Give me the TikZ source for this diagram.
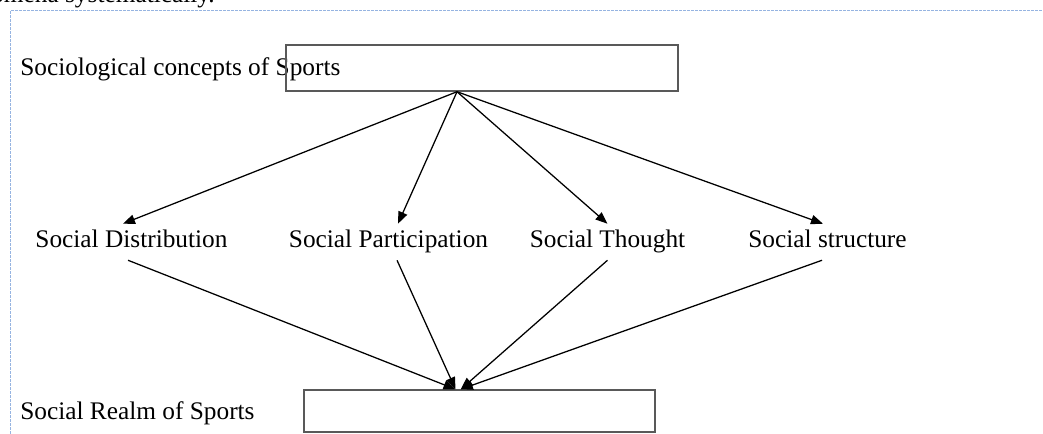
\documentclass[tikz,border=0pt]{standalone}
\usepackage{fontspec}
\setmainfont{Liberation Serif}
\usetikzlibrary{arrows.meta,positioning}
\definecolor{frameblue}{RGB}{150,180,225}

\begin{document}
\begin{tikzpicture}[x=0.75pt,y=-0.75pt,
    txt/.style={inner sep=0pt,font=\fontsize{19}{22}\selectfont},
    lbl/.style={txt,anchor=base,text height=13pt,text depth=4pt,inner ysep=5pt},
    box/.style={draw=black!65,line width=1.1pt,inner sep=0pt},
    arr/.style={-{Triangle[length=9pt,width=7pt]},line width=0.95pt},
    frame/.style={draw=frameblue,dash pattern=on 2.25pt off 0.75pt,line width=0.75pt}]
   \useasboundingbox (0,0) rectangle (1043,434);
   \draw[frame] (10,434) -- (10,11) -- (1043,11);
   \node[txt,anchor=base east] (prev) at (215,3) {phenomena systematically.};

   \node[txt,anchor=base west] (soc) at (20,76) {Sociological concepts of Sports};
   \node[box,minimum width=294pt,minimum height=34.5pt] (topbox) at (482,68) {};
   \coordinate (hub) at ([xshift=-18.75pt]topbox.south);

   \node[lbl] (sd) at (131.5,248) {Social Distribution};
   \node[lbl] (sp) at (388.5,248) {Social Participation};
   \node[lbl] (st) at (607.5,248) {Social Thought};
   \node[lbl] (ss) at (827.5,248) {Social structure};

   \node[txt,anchor=base west] (realmtxt) at (20,420) {Social Realm of Sports};
   \node[box,minimum width=263.25pt,minimum height=31.5pt] (realm) at (479.5,411) {};
   % \node[box] (realm) [below=of st] {};

    \path[arr]
    (hub)   edge ([xshift=-6.4pt]sd.north)
            edge ([xshift=7.1pt]sp.north)
            edge (st.north)
            edge ([xshift=-3.4pt]ss.north);
    \path[arr]
    ([xshift=-2.6pt]sd.south) edge ([xshift=-18pt]realm.north)
    ([xshift=6.4pt]sp.south)  edge ([xshift=-18pt]realm.north)
    (st.south)                edge ([xshift=-14pt]realm.north)
    ([xshift=-4.1pt]ss.south) edge ([xshift=-14pt]realm.north);
\end{tikzpicture}
\end{document}
